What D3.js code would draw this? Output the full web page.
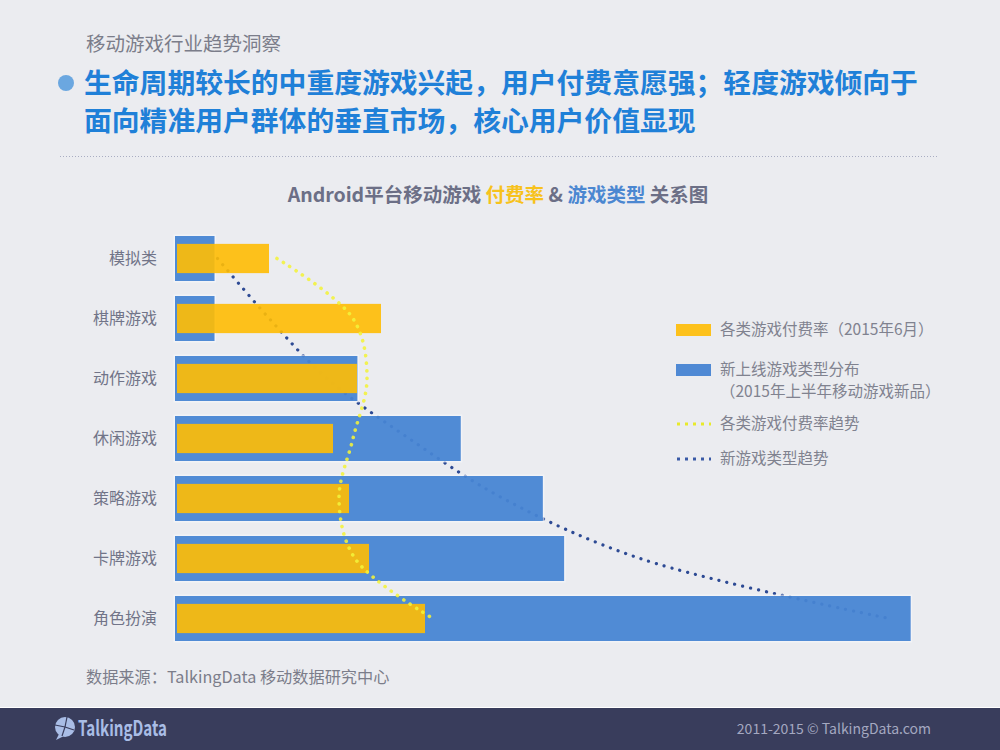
<!DOCTYPE html>
<meta charset="utf-8">

<!-- Load d3.js -->
<script src="https://d3js.org/d3.v7.min.js"></script>

<style>
  body { margin: 0; background: #ebecf0; }
  text { font-family: "Noto Sans CJK SC", "Noto Sans", sans-serif; }
</style>

<div id="my_dataviz"></div>

<script>

// data
var categories = ["模拟类", "棋牌游戏", "动作游戏", "休闲游戏", "策略游戏", "卡牌游戏", "角色扮演"];
// 新上线游戏类型分布 (share, %)
var newGameShare = [1.3, 1.3, 6.0, 9.4, 12.1, 12.8, 24.2];
// 各类游戏付费率 (%)
var payRate = [2.3, 5.1, 4.5, 3.9, 4.3, 4.8, 6.2];
// trend lines, value at each category row
var shareTrend = [1.4, 3.1, 5.0, 7.7, 10.8, 15.3, 23.5];
var payTrend = [2.5, 4.4, 4.75, 4.4, 4.05, 4.45, 6.4];

var legendItems = [
  {type: "rect", color: "#ffbd03", lines: ["各类游戏付费率（2015年6月）"]},
  {type: "rect", color: "#3478cf", lines: ["新上线游戏类型分布", "（2015年上半年移动游戏新品）"]},
  {type: "dots", color: "#e8ea2a", lines: ["各类游戏付费率趋势"]},
  {type: "dots", color: "#3a5aa6", lines: ["新游戏类型趋势"]}
];

var width = 1000, height = 750;

var svg = d3.select("#my_dataviz")
  .append("svg")
    .attr("width", width)
    .attr("height", height);

// background
svg.append("rect").attr("width", width).attr("height", height).attr("fill", "#ebecf0");

// page header
svg.append("text")
  .attr("x", 86).attr("y", 51)
  .attr("font-size", 19.5).attr("fill", "#7b7d8a")
  .text("移动游戏行业趋势洞察");

svg.append("circle").attr("cx", 66).attr("cy", 83).attr("r", 8).attr("fill", "#6ba7e0");

var title = svg.append("g")
  .attr("font-size", 27.8).attr("font-weight", "bold").attr("fill", "#1f80d8");
title.append("text").attr("x", 84).attr("y", 93)
  .text("生命周期较长的中重度游戏兴起，用户付费意愿强；轻度游戏倾向于");
title.append("text").attr("x", 84).attr("y", 131)
  .text("面向精准用户群体的垂直市场，核心用户价值显现");

svg.append("line")
  .attr("x1", 60).attr("x2", 937).attr("y1", 156.5).attr("y2", 156.5)
  .attr("stroke", "#a9adc2").attr("stroke-width", 1)
  .attr("stroke-dasharray", "1 2");

// chart title
var ct = svg.append("text")
  .attr("x", 498).attr("y", 202)
  .attr("text-anchor", "middle")
  .attr("font-size", 19.5).attr("font-weight", "bold").attr("fill", "#6c6f86");
ct.append("tspan").text("Android平台移动游戏  ");
ct.append("tspan").attr("fill", "#f7c21c").text("付费率");
ct.append("tspan").text(" & ");
ct.append("tspan").attr("fill", "#4b87d1").text("游戏类型");
ct.append("tspan").text(" 关系图");

// scales
var y = d3.scaleBand()
  .domain(categories)
  .range([236, 641])
  .paddingInner(0.25)
  .paddingOuter(0);

var xShare = d3.scaleLinear().domain([0, 25]).range([175, 935]);
var xPay = d3.scaleLinear().domain([0, 10]).range([177, 577]);

// category labels
svg.append("g")
  .selectAll("text")
  .data(categories)
  .join("text")
    .attr("x", 157)
    .attr("y", function(d) { return y(d) + y.bandwidth() / 2; })
    .attr("dy", "0.35em")
    .attr("text-anchor", "end")
    .attr("font-size", 16)
    .attr("fill", "#717488")
    .text(function(d) { return d; });

// trend of new game share (drawn under the bars)
var shareLine = d3.line()
  .x(function(d, i) { return xShare(d); })
  .y(function(d, i) { return y(categories[i]) + y.bandwidth() / 2; })
  .curve(d3.curveCatmullRom.alpha(0.5));

svg.append("path")
  .attr("d", shareLine(shareTrend))
  .attr("fill", "none")
  .attr("stroke", "#2d4a94")
  .attr("stroke-width", 3.2)
  .attr("stroke-linecap", "round")
  .attr("stroke-dasharray", "0.1 8");

// blue bars with a light halo
svg.append("g")
  .selectAll("rect")
  .data(newGameShare)
  .join("rect")
    .attr("x", xShare(0) - 1.5)
    .attr("y", function(d, i) { return y(categories[i]) - 1.5; })
    .attr("width", function(d) { return xShare(d) - xShare(0) + 3; })
    .attr("height", y.bandwidth() + 3)
    .attr("fill", "#f6f8fc")
    .attr("opacity", 0.6);

svg.append("g")
  .selectAll("rect")
  .data(newGameShare)
  .join("rect")
    .attr("x", xShare(0))
    .attr("y", function(d, i) { return y(categories[i]); })
    .attr("width", function(d) { return xShare(d) - xShare(0); })
    .attr("height", y.bandwidth())
    .attr("fill", "#3478cf")
    .attr("opacity", 0.85);

// yellow bars
var yellowH = y.bandwidth() * 0.65;
svg.append("g")
  .selectAll("rect")
  .data(payRate)
  .join("rect")
    .attr("x", xPay(0))
    .attr("y", function(d, i) { return y(categories[i]) + (y.bandwidth() - yellowH) / 2; })
    .attr("width", function(d) { return xPay(d) - xPay(0); })
    .attr("height", yellowH)
    .attr("fill", "#ffbd03")
    .attr("opacity", 0.9);

// trend of pay rate (on top)
var payLine = d3.line()
  .x(function(d) { return xPay(d); })
  .y(function(d, i) { return y(categories[i]) + y.bandwidth() / 2; })
  .curve(d3.curveCatmullRom.alpha(0.5));

svg.append("path")
  .attr("d", payLine(payTrend))
  .attr("fill", "none")
  .attr("stroke", "#f2f33a")
  .attr("stroke-width", 3.6)
  .attr("stroke-linecap", "round")
  .attr("stroke-dasharray", "0.1 7.5")
  .attr("opacity", 0.88);

// legend
var legendY = [330, 370, 424, 459];
var legend = svg.append("g");
legendItems.forEach(function(item, i) {
  var ly = legendY[i];
  if (item.type === "rect") {
    legend.append("rect")
      .attr("x", 676).attr("y", ly - 6)
      .attr("width", 35).attr("height", 12)
      .attr("fill", item.color)
      .attr("opacity", item.color === "#3478cf" ? 0.85 : 0.9);
  } else {
    legend.append("line")
      .attr("x1", 677).attr("x2", 711)
      .attr("y1", ly).attr("y2", ly)
      .attr("stroke", item.color)
      .attr("stroke-width", 3.2)
      .attr("stroke-dasharray", "3 5");
  }
  item.lines.forEach(function(t, j) {
    legend.append("text")
      .attr("x", 720)
      .attr("y", ly + 5 + j * 22)
      .attr("font-size", 15.5)
      .attr("fill", "#80828f")
      .text(t);
  });
});

// source
svg.append("text")
  .attr("x", 86).attr("y", 683)
  .attr("font-size", 16.2).attr("fill", "#7b7d8a")
  .text("数据来源：TalkingData 移动数据研究中心");

// footer band
svg.append("rect").attr("x", 0).attr("y", 708).attr("width", width).attr("height", 42).attr("fill", "#393d5c");
svg.append("line").attr("x1", 0).attr("x2", width).attr("y1", 707.5).attr("y2", 707.5)
  .attr("stroke", "#ffffff").attr("stroke-width", 1);

var logo = svg.append("g").attr("transform", "translate(65,727)");
logo.append("path").attr("d", "M-6,7 L-9,13 L-1,9 Z").attr("fill", "#a9bde6");
logo.append("circle").attr("r", 10).attr("fill", "#a9bde6");
[[-10, -2], [2, -10], [9, 3], [-3, 9]].forEach(function(p) {
  logo.append("line").attr("x1", 0).attr("y1", 0).attr("x2", p[0]).attr("y2", p[1])
    .attr("stroke", "#393d5c").attr("stroke-width", 1.2);
});

svg.append("text")
  .attr("x", 78).attr("y", 736)
  .attr("font-family", "DejaVu Sans Condensed, DejaVu Sans")
  .attr("font-weight", "bold")
  .attr("font-size", 21)
  .attr("textLength", 89)
  .attr("lengthAdjust", "spacingAndGlyphs")
  .attr("fill", "#a9bde6")
  .text("TalkingData");

svg.append("text")
  .attr("x", 931).attr("y", 734)
  .attr("text-anchor", "end")
  .attr("font-size", 14).attr("fill", "#a4a8c0")
  .text("2011-2015 © TalkingData.com");

</script>
